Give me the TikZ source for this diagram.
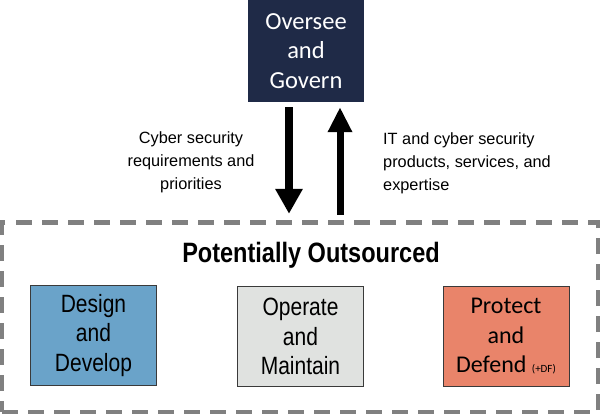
\documentclass[tikz,border=0pt]{standalone}
\usepackage{fontspec}
\usetikzlibrary{arrows.meta,calc}
\setmainfont{Liberation Sans}
\newfontfamily\carl{Carlito}
\newfontfamily\cond[FakeStretch=0.84]{Liberation Sans}
\definecolor{navy}{HTML}{1F2A47}
\definecolor{dashgray}{HTML}{808080}
\definecolor{ddblue}{HTML}{6AA3C9}
\definecolor{omgray}{HTML}{E0E2E0}
\definecolor{pdsalmon}{HTML}{E9846A}
\definecolor{boxedge}{HTML}{3A3A3A}
\tikzset{
  govbox/.style={fill=navy, text=white, minimum width=116pt, minimum height=102pt,
    align=center, font=\carl\fontsize{24.5}{29.5}\selectfont, inner sep=0pt},
  rolebox/.style={draw=boxedge, line width=0.9pt, minimum width=126pt, minimum height=100pt,
    align=center, inner sep=0pt},
  condtext/.style={font=\cond\fontsize{25}{29.5}\selectfont},
  outerbox/.style={draw=dashgray, line width=4.5pt, dash pattern=on 16pt off 10pt,
    minimum width=596pt, minimum height=189.5pt, inner sep=0pt},
  bigarrow/.style={line width=8pt, -{Triangle[width=26pt,length=25pt]}},
  sidelabel/.style={font=\fontsize{16.3}{23}\selectfont, inner sep=0pt}
}
\begin{document}
\begin{tikzpicture}[x=1pt,y=-1pt]
\useasboundingbox (0,0) rectangle (600,415);
\node[govbox] (gov) at (306,51) {Oversee\\and\\Govern};
\node[outerbox] (out) at (300,317.3) {};
\node[font=\cond\bfseries\fontsize{28}{30}\selectfont] (title) at (311,255) {Potentially Outsourced};
\node[rolebox, fill=ddblue, condtext] (dd) at (93.5,335.5) {Design\\and\\Develop};
\node[rolebox, fill=omgray, condtext] (om) at (300.5,336.5) {Operate\\and\\Maintain};
\node[rolebox, fill=pdsalmon, font=\carl\fontsize{24}{29.5}\selectfont] (pd) at (506,336.5) {Protect\\and\\Defend {\fontsize{11}{12}\selectfont(+DF)}};
\coordinate (dtop) at ($(gov.south)+(-17,5)$);
\coordinate (dbot) at ($(out.north)+(-11,-6.5)$);
\coordinate (utop) at ($(gov.south)+(34,5)$);
\coordinate (ubot) at ($(out.north)+(40,-5.5)$);
\draw[bigarrow] (dtop) -- (dtop |- dbot);
\draw[bigarrow, line width=7pt, -{Triangle[width=23pt,length=25pt]}] (utop |- ubot) -- (utop);
\node[sidelabel, align=center] (req) at (191,162.5) {Cyber security\\requirements and\\priorities};
\node[sidelabel, align=left, anchor=west] (prod) at (383,163) {IT and cyber security\\products, services, and\\expertise};
\end{tikzpicture}
\end{document}
